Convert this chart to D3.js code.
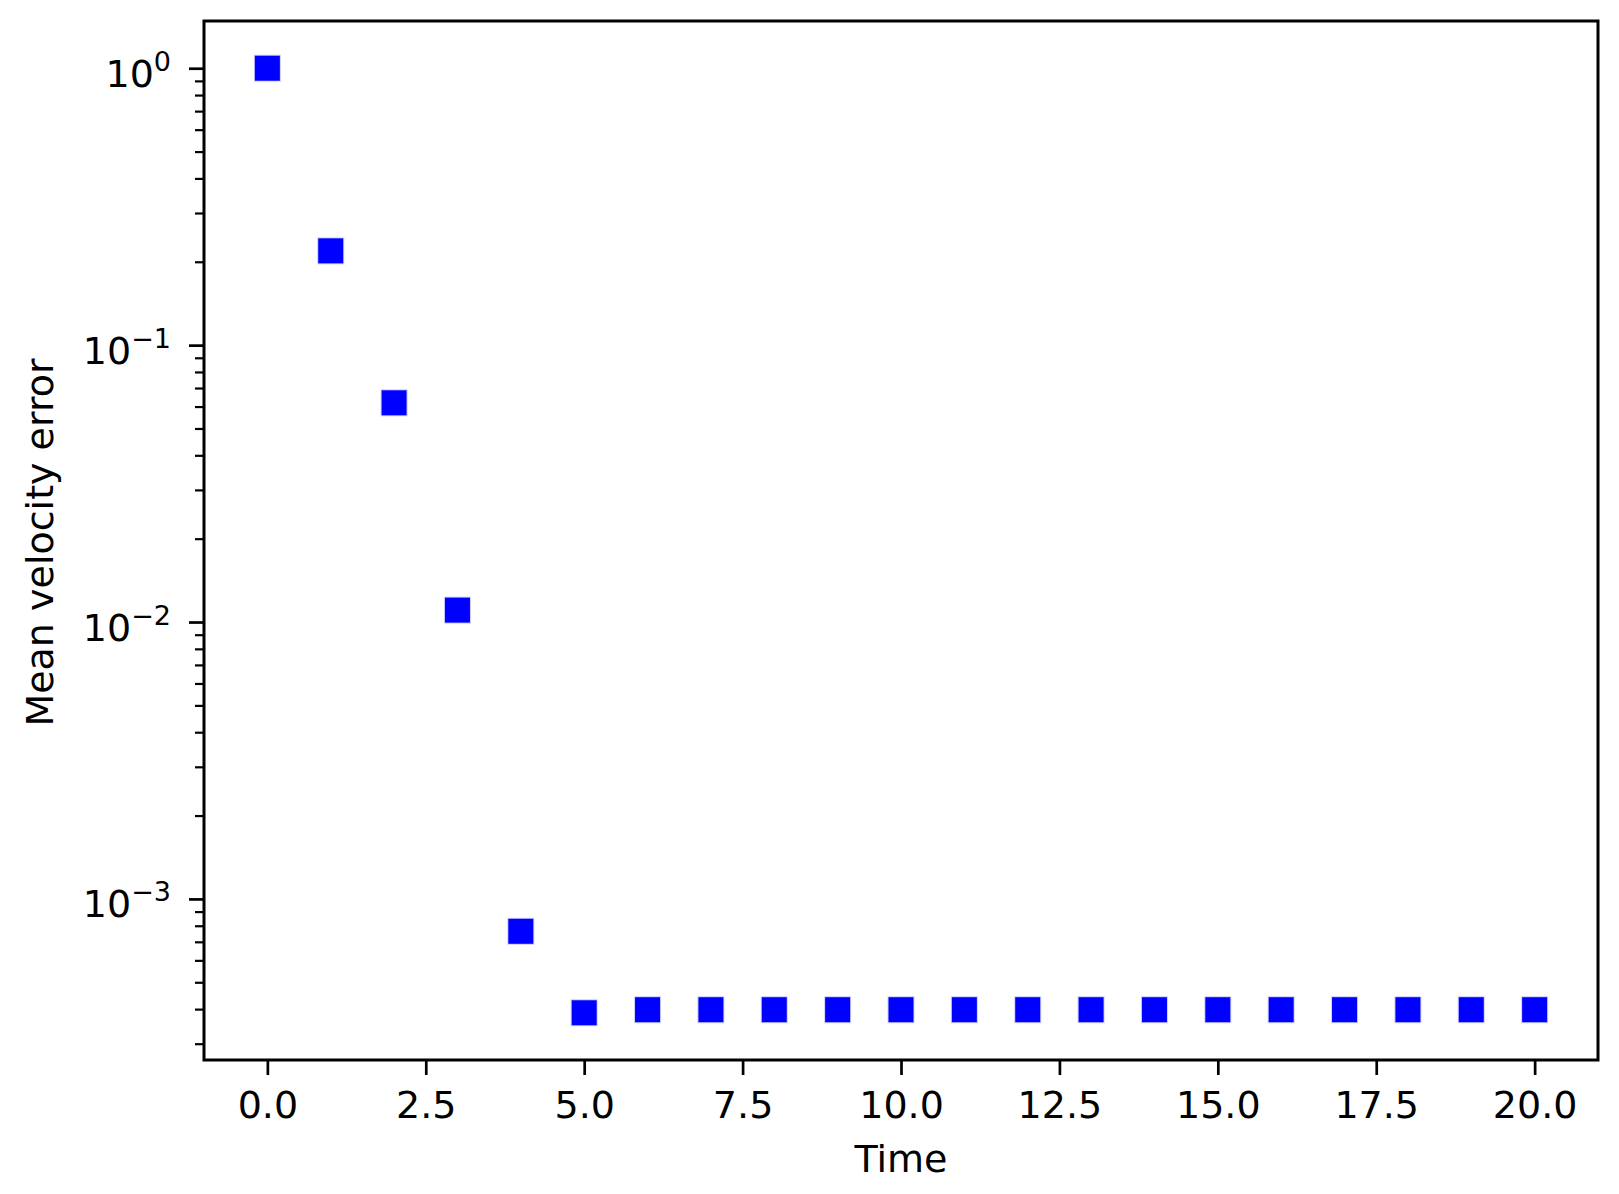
<!DOCTYPE html>
<html>
<head>
<meta charset="utf-8">
<script src="https://cdn.jsdelivr.net/npm/d3@7"></script>
<style>
  body { margin: 0; background: #fff; }
  svg { display: block; font-family: "DejaVu Sans", sans-serif; }
</style>
</head>
<body>
<svg id="chart" width="1619" height="1194"></svg>
<script>
// data
const times = [0, 1, 2, 3, 4, 5, 6, 7, 8, 9, 10, 11, 12, 13, 14, 15, 16, 17, 18, 19, 20];
const errors = [1.0, 0.219, 0.0619, 0.01104, 7.64e-4, 3.88e-4,
  3.98e-4, 3.98e-4, 3.98e-4, 3.98e-4, 3.98e-4, 3.98e-4, 3.98e-4, 3.98e-4,
  3.98e-4, 3.98e-4, 3.98e-4, 3.98e-4, 3.98e-4, 3.98e-4, 3.98e-4];
const xTicks = [0, 2.5, 5, 7.5, 10, 12.5, 15, 17.5, 20];
const yMajor = [1, 0.1, 0.01, 0.001];
const yExponents = ["0", "\u22121", "\u22122", "\u22123"];
const xLabel = "Time";
const yLabel = "Mean velocity error";

const plotLeft = 204, plotRight = 1598, plotTop = 21, plotBottom = 1060;
const fontSize = 38;

const svg = d3.select("#chart");

// matplotlib-like 5% margins
const tMin = d3.min(times), tMax = d3.max(times);
const tPad = (tMax - tMin) * 0.05;
const x = d3.scaleLinear().domain([tMin - tPad, tMax + tPad]).range([plotLeft, plotRight]);

const lMin = Math.log10(d3.min(errors)), lMax = Math.log10(d3.max(errors));
const lPad = (lMax - lMin) * 0.05;
const y = d3.scaleLog()
  .domain([Math.pow(10, lMin - lPad), Math.pow(10, lMax + lPad)])
  .range([plotBottom, plotTop]);

// minor ticks 2..9 per decade inside the domain
let yMinor = [];
const [d0, d1] = y.domain();
for (let e = Math.floor(Math.log10(d0)); e <= Math.ceil(Math.log10(d1)); e++) {
  for (let m = 2; m <= 9; m++) {
    const v = m * Math.pow(10, e);
    if (v >= d0 && v <= d1) yMinor.push(v);
  }
}

// x axis
const xAxis = svg.append("g")
  .attr("transform", `translate(0,${plotBottom})`)
  .call(d3.axisBottom(x).tickValues(xTicks).tickFormat(d3.format(".1f")).tickSize(15));
xAxis.select(".domain").remove();
xAxis.selectAll("line").attr("stroke", "#000").attr("stroke-width", 2.7);
xAxis.selectAll("text")
  .attr("y", 58).attr("dy", 0)
  .attr("fill", "#000")
  .attr("font-size", fontSize)
  .attr("font-family", "DejaVu Sans");

// y axis minor
const yMinorAxis = svg.append("g")
  .attr("transform", `translate(${plotLeft},0)`)
  .call(d3.axisLeft(y).tickValues(yMinor).tickFormat("").tickSize(9));
yMinorAxis.select(".domain").remove();
yMinorAxis.selectAll("line").attr("stroke", "#000").attr("stroke-width", 2.2);

// y axis major
const yAxis = svg.append("g")
  .attr("transform", `translate(${plotLeft},0)`)
  .call(d3.axisLeft(y).tickValues(yMajor).tickFormat("").tickSize(15));
yAxis.select(".domain").remove();
yAxis.selectAll("line").attr("stroke", "#000").attr("stroke-width", 2.7);
yAxis.selectAll("text").each(function(d, i) {
  const t = d3.select(this)
    .attr("x", -33).attr("dy", 0).attr("y", 18)
    .attr("fill", "#000")
    .attr("font-size", fontSize)
    .attr("font-family", "DejaVu Sans")
    .attr("text-anchor", "end");
  t.append("tspan").text("10");
  t.append("tspan").attr("dy", -16).attr("font-size", 27).text(yExponents[i]);
});

// markers
svg.append("g")
  .selectAll("rect")
  .data(times)
  .join("rect")
  .attr("x", d => x(d) - 12.5)
  .attr("y", (d, i) => y(errors[i]) - 12.5)
  .attr("width", 25)
  .attr("height", 25)
  .attr("fill", "#0000ff")
  .attr("stroke", "rgba(0,0,255,0.2)")
  .attr("stroke-width", 2);

// frame
svg.append("rect")
  .attr("x", plotLeft).attr("y", plotTop)
  .attr("width", plotRight - plotLeft).attr("height", plotBottom - plotTop)
  .attr("fill", "none")
  .attr("stroke", "#000")
  .attr("stroke-width", 3);

// axis labels
svg.append("text")
  .attr("x", (plotLeft + plotRight) / 2)
  .attr("y", 1172)
  .attr("text-anchor", "middle")
  .attr("font-size", fontSize)
  .attr("fill", "#000")
  .text(xLabel);

svg.append("text")
  .attr("transform", `translate(53,${(plotTop + plotBottom) / 2 + 2}) rotate(-90)`)
  .attr("text-anchor", "middle")
  .attr("font-size", fontSize)
  .attr("fill", "#000")
  .text(yLabel);
</script>
</body>
</html>
